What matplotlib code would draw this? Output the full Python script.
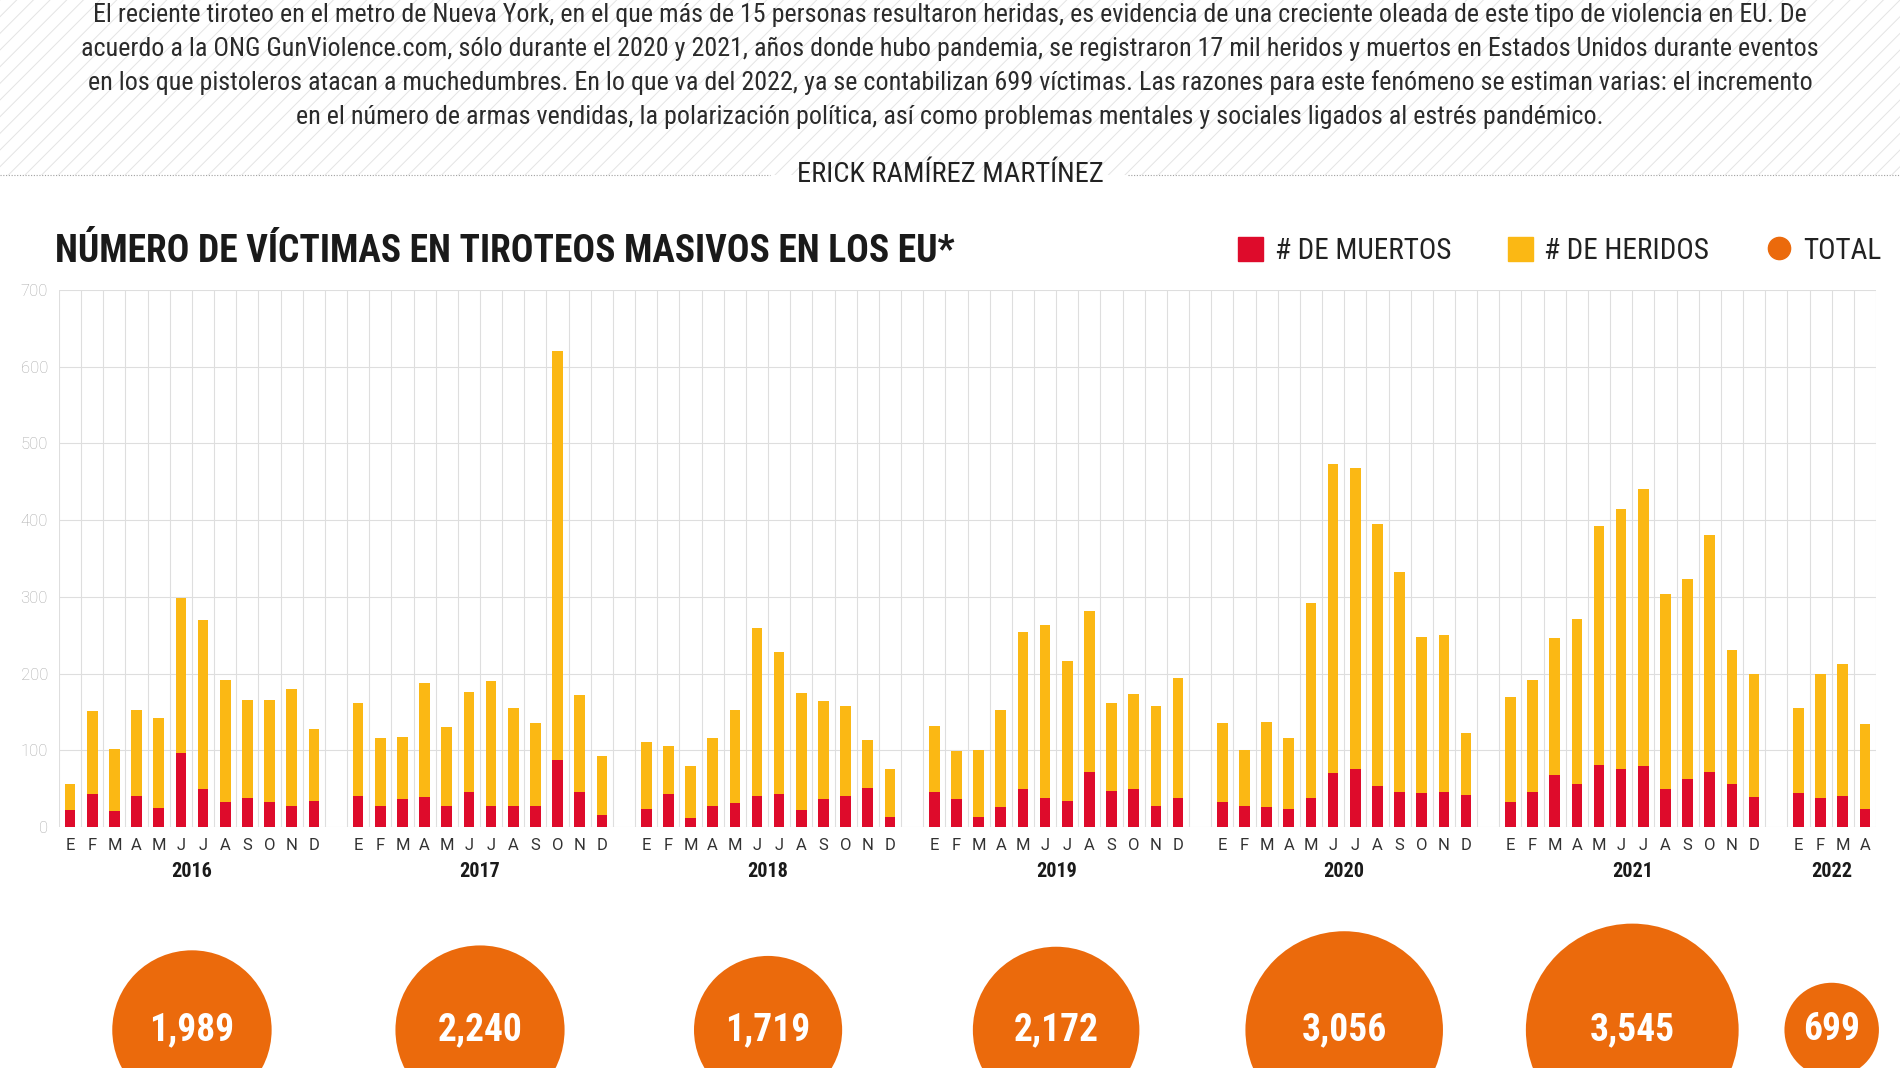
import matplotlib.pyplot as plt
import matplotlib.font_manager as fm
from matplotlib.patches import Patch, Rectangle
from matplotlib.lines import Line2D

# datos: victimas en tiroteos masivos por mes (E..D), 2016 - abril 2022
years = ['2016', '2017', '2018', '2019', '2020', '2021', '2022']
months = ['E', 'F', 'M', 'A', 'M', 'J', 'J', 'A', 'S', 'O', 'N', 'D']
muertos = [
    [22, 43, 21, 41, 25, 97, 50, 32, 38, 32, 28, 34],
    [40, 28, 37, 39, 28, 45, 28, 28, 28, 87, 46, 15],
    [24, 43, 12, 28, 31, 40, 43, 22, 36, 41, 51, 13],
    [46, 37, 13, 26, 50, 38, 34, 72, 47, 49, 28, 38],
    [32, 28, 26, 23, 38, 70, 76, 53, 46, 44, 45, 42],
    [32, 45, 68, 56, 81, 76, 79, 49, 62, 72, 56, 39],
    [44, 38, 41, 23],
]
heridos = [
    [34, 108, 81, 112, 117, 202, 220, 160, 128, 133, 152, 94],
    [121, 88, 80, 149, 103, 131, 162, 127, 107, 533, 126, 77],
    [87, 62, 67, 88, 121, 219, 185, 153, 128, 117, 62, 62],
    [86, 62, 87, 127, 204, 225, 183, 209, 115, 125, 130, 156],
    [103, 72, 111, 93, 254, 403, 392, 342, 287, 204, 205, 81],
    [137, 146, 178, 215, 311, 339, 361, 255, 261, 309, 175, 160],
    [111, 161, 172, 111],
]
totales = [1989, 2240, 1719, 2172, 3056, 3545, 699]

RED = '#de0b2b'
YELLOW = '#fbb814'
ORANGE = '#eb6a0c'

# condensed font if there is one
avail = {f.name for f in fm.fontManager.ttflist}
cond = next((n for n in ['Roboto Condensed', 'Liberation Sans Narrow', 'Noto Sans Condensed',
                         'Open Sans Condensed'] if n in avail), 'Roboto')
plt.rcParams['font.family'] = [cond, 'DejaVu Sans']
plt.rcParams['hatch.linewidth'] = 0.7

W, H = 1900, 1068
fig = plt.figure(figsize=(W / 100, H / 100), dpi=100)

# header with hatched background
y_line = 1 - 175 / H
fig.patches.append(Rectangle((0, y_line), 1, 1 - y_line, transform=fig.transFigure,
                             facecolor='white', edgecolor='#e4e4e4', hatch='//', lw=0, zorder=0))
intro = [
    'El reciente tiroteo en el metro de Nueva York, en el que más de 15 personas resultaron heridas, es evidencia de una creciente oleada de este tipo de violencia en EU. De',
    'acuerdo a la ONG GunViolence.com, sólo durante el 2020 y 2021, años donde hubo pandemia, se registraron 17 mil heridos y muertos en Estados Unidos durante eventos',
    'en los que pistoleros atacan a muchedumbres. En lo que va del 2022, ya se contabilizan 699 víctimas. Las razones para este fenómeno se estiman varias: el incremento',
    'en el número de armas vendidas, la polarización política, así como problemas mentales y sociales ligados al estrés pandémico.',
]
for i, line in enumerate(intro):
    fig.text(0.5, 1 - (15 + 34 * i) / H, line, ha='center', va='center', fontsize=18.7, color='#2b2b2b')

fig.add_artist(Line2D([0, 770 / W], [y_line, y_line], transform=fig.transFigure,
                      color='#a0a0a0', lw=0.8, ls=(0, (1, 1.5))))
fig.add_artist(Line2D([1128 / W, 1], [y_line, y_line], transform=fig.transFigure,
                      color='#a0a0a0', lw=0.8, ls=(0, (1, 1.5))))
fig.text(0.5, y_line, 'ERICK RAMÍREZ MARTÍNEZ', ha='center', va='center', fontsize=20.5, color='#222222')

# titulo y leyenda
fig.text(55 / W, 1 - 251 / H, 'NÚMERO DE VÍCTIMAS EN TIROTEOS MASIVOS EN LOS EU*', ha='left', va='center',
         fontsize=27, fontweight='bold', color='#1a1a1a')
handles = [Patch(color=RED), Patch(color=YELLOW),
           Line2D([], [], marker='o', ls='', color=ORANGE, markersize=16)]
fig.legend(handles, ['# DE MUERTOS', '# DE HERIDOS', 'TOTAL'], loc='center right',
           bbox_to_anchor=(1881 / W, 1 - 251 / H), ncol=3, frameon=False, fontsize=21,
           borderpad=0, borderaxespad=0,
           handlelength=0.85, handleheight=0.85, handletextpad=0.4, columnspacing=1.95,
           labelcolor='#222222')

# barras
left, right = 59 / W, 1876 / W
bottom, top = 1 - 827 / H, 1 - 290 / H
ax = fig.add_axes([left, bottom, right - left, top - bottom])

xs, xlabels, ycenters = [], [], []
for yi, (m_list, h_list) in enumerate(zip(muertos, heridos)):
    pos = [yi * 13 + m for m in range(len(m_list))]
    ax.bar(pos, m_list, width=0.48, color=RED, zorder=3)
    ax.bar(pos, h_list, width=0.48, bottom=m_list, color=YELLOW, zorder=3)
    xs += pos
    xlabels += months[:len(m_list)]
    ycenters.append((pos[0] + pos[-1]) / 2)

n_slots = xs[-1] + 1
ax.set_xlim(-0.5, n_slots - 0.5)
ax.set_ylim(0, 700)
ax.set_xticks(xs)
ax.set_xticklabels(xlabels, family=['Roboto', 'DejaVu Sans'])
ax.set_yticks(range(0, 701, 100))
ax.set_yticklabels([str(v) for v in range(0, 701, 100)], family=['Roboto', 'DejaVu Sans'],
                   fontweight='light')
ax.set_xticks([i - 0.5 for i in range(n_slots + 1)], minor=True)
ax.grid(which='minor', axis='x', color='#dedede', lw=0.8, zorder=0)
ax.grid(which='major', axis='y', color='#dedede', lw=0.8, zorder=0)
ax.tick_params(axis='both', which='both', length=0)
ax.tick_params(axis='x', labelsize=12, colors='#333333', pad=8)
ax.tick_params(axis='y', labelsize=12, colors='#a8a8a8', pad=8)
for s in ax.spines.values():
    s.set_visible(False)

for cx, yr in zip(ycenters, years):
    ax.text(cx, -0.082, yr, transform=ax.get_xaxis_transform(), ha='center', va='center',
            fontsize=14.5, fontweight='bold', color='#1a1a1a')

# burbujas con el total anual (area proporcional)
bh = 188 / H
ax2 = fig.add_axes([left, 0, right - left, bh], sharex=ax)
ax2.set_ylim(0, 1)
ax2.axis('off')
by = 38 / 188
ax2.scatter(ycenters, [by] * len(ycenters), s=[t * 6.62 for t in totales], color=ORANGE,
            clip_on=False, lw=0)
for cx, t in zip(ycenters, totales):
    ax2.text(cx, by, f'{t:,}', ha='center', va='center', fontsize=27, fontweight='bold', color='white')

fig.savefig('out.png', dpi=100)
